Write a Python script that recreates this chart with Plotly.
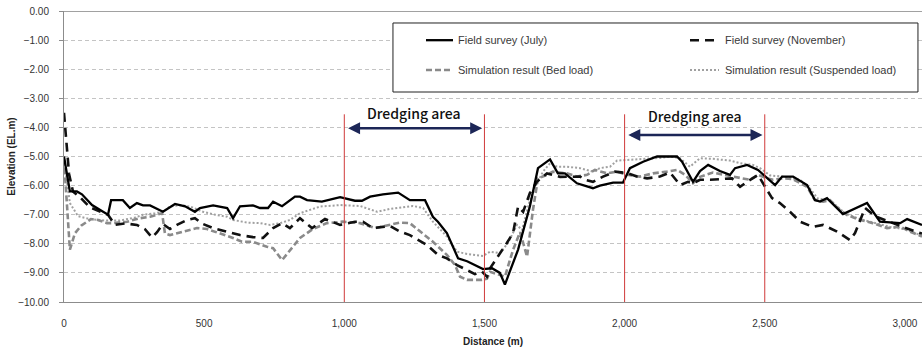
import plotly.graph_objects as go

# ---------------- data ----------------
july_x = [0, 21, 46, 64, 100, 139, 157, 168, 210, 235, 260, 282, 307, 353, 396, 432, 467, 485,
          532, 582, 603, 628, 674, 699, 728, 746, 778, 824, 842, 867, 920, 985, 1038, 1063, 1092,
          1138, 1192, 1234, 1288, 1316, 1334, 1366, 1406, 1438, 1495, 1527, 1555, 1573, 1620,
          1662, 1691, 1734, 1762, 1787, 1830, 1887, 1912, 1959, 1994, 2019, 2066, 2116, 2187,
          2205, 2244, 2269, 2298, 2340, 2376, 2394, 2437, 2476, 2512, 2537, 2562, 2601, 2651,
          2679, 2697, 2722, 2779, 2829, 2865, 2911, 2983, 3008, 3061]
july_y = [-5.0, -6.2, -6.2, -6.3, -6.67, -6.9, -7.0, -6.5, -6.5, -6.77, -6.6, -6.68, -6.68, -6.9,
          -6.63, -6.71, -6.9, -6.77, -6.68, -6.77, -7.12, -6.71, -6.68, -6.77, -6.77, -6.55, -6.71,
          -6.38, -6.38, -6.5, -6.55, -6.4, -6.52, -6.52, -6.38, -6.3, -6.24, -6.5, -6.5, -7.07,
          -7.24, -7.63, -8.5, -8.6, -8.87, -8.84, -9.0, -9.4, -8.2, -6.72, -5.4, -5.1, -5.58,
          -5.58, -5.92, -6.09, -6.0, -5.9, -5.9, -5.4, -5.18, -5.0, -5.0, -5.18, -5.87, -5.5,
          -5.29, -5.5, -5.63, -5.4, -5.29, -5.46, -5.75, -5.98, -5.69, -5.69, -5.98, -6.5, -6.55,
          -6.43, -6.98, -6.77, -6.6, -7.24, -7.29, -7.15, -7.35]

nov_x = [0, 11, 18, 32, 57, 93, 157, 182, 218, 260, 289, 314, 332, 353, 378, 403, 439, 467, 496,
         532, 582, 628, 674, 710, 746, 778, 806, 842, 885, 931, 985, 1038, 1067, 1102, 1163, 1199,
         1234, 1295, 1334, 1366, 1402, 1431, 1466, 1491, 1509, 1520, 1555, 1580, 1602, 1620,
         1638, 1662, 1687, 1723, 1770, 1805, 1841, 1859, 1887, 1923, 1966, 2009, 2044, 2080,
         2126, 2162, 2187, 2198, 2226, 2244, 2269, 2305, 2383, 2412, 2437, 2476, 2501, 2526,
         2554, 2590, 2626, 2672, 2708, 2758, 2804, 2822, 2858, 2893, 2947, 3000, 3061]
nov_y = [-3.5, -4.7, -5.6, -6.2, -6.4, -6.75, -7.0, -7.35, -7.3, -7.35, -7.5, -7.78, -7.6, -7.32,
         -7.49, -7.35, -7.18, -7.12, -7.32, -7.46, -7.58, -7.7, -7.77, -7.8, -7.46, -7.29, -7.46,
         -7.12, -7.46, -7.15, -7.35, -7.24, -7.24, -7.46, -7.39, -7.58, -7.7, -8.04, -8.38, -8.5,
         -8.73, -8.87, -9.04, -8.95, -9.13, -8.84, -8.35, -7.97, -7.63, -6.72, -6.9, -6.26, -5.87,
         -5.58, -5.7, -5.7, -5.69, -5.8, -5.87, -5.69, -5.52, -5.57, -5.69, -5.75, -5.69, -5.55,
         -5.87, -5.98, -5.87, -5.92, -5.8, -5.8, -5.75, -6.04, -5.87, -5.63, -6.04, -6.43, -6.6,
         -6.9, -7.24, -7.42, -7.35, -7.58, -7.87, -7.63, -6.77, -7.05, -7.25, -7.45, -7.65]

bed_x = [0, 21, 39, 61, 96, 121, 153, 175, 225, 271, 307, 350, 360, 378, 425, 474, 510, 557, 603,
         635, 674, 724, 746, 778, 806, 842, 888, 938, 995, 1056, 1110, 1163, 1199, 1234, 1270,
         1316, 1366, 1395, 1413, 1438, 1491, 1509, 1520, 1555, 1573, 1602, 1627, 1652, 1673,
         1691, 1723, 1744, 1794, 1830, 1866, 1894, 1937, 1973, 2009, 2055, 2101, 2151, 2187,
         2216, 2244, 2269, 2315, 2387, 2447, 2476, 2508, 2530, 2565, 2601, 2651, 2679, 2708,
         2733, 2768, 2794, 2840, 2886, 2936, 2983, 3018, 3061]
bed_y = [-5.1, -8.2, -7.64, -7.38, -7.15, -7.18, -7.29, -7.29, -7.24, -7.12, -7.07, -6.95, -7.64,
         -7.7, -7.58, -7.46, -7.49, -7.64, -7.8, -7.93, -7.93, -8.1, -8.15, -8.56, -8.21, -7.8,
         -7.49, -7.29, -7.24, -7.29, -7.46, -7.35, -7.27, -7.29, -7.58, -7.93, -8.38, -8.73,
         -9.13, -9.24, -9.24, -9.2, -8.96, -9.07, -9.13, -8.21, -7.6, -8.44, -6.84, -5.75, -5.63,
         -5.52, -5.58, -5.69, -5.63, -5.46, -5.58, -5.52, -5.63, -5.69, -5.58, -5.52, -5.46,
         -5.63, -5.92, -5.7, -5.55, -5.69, -5.8, -5.63, -5.75, -5.8, -5.75, -5.78, -6.04, -6.5,
         -6.55, -6.5, -6.84, -7.01, -7.18, -7.29, -7.46, -7.41, -7.58, -7.75]

susp_x = [0, 21, 50, 93, 146, 200, 253, 282, 325, 353, 378, 414, 450, 496, 539, 582, 603, 653,
          699, 735, 771, 806, 842, 878, 913, 985, 1056, 1117, 1163, 1245, 1281, 1316, 1366, 1402,
          1438, 1495, 1520, 1555, 1584, 1616, 1634, 1662, 1687, 1709, 1734, 1759, 1794, 1841,
          1887, 1912, 1948, 1973, 2009, 2066, 2126, 2162, 2198, 2233, 2269, 2315, 2376, 2412,
          2458, 2483, 2519, 2572, 2626, 2661, 2690, 2733, 2786, 2840, 2893, 2947, 3000, 3061]
susp_y = [-5.1, -6.6, -7.05, -7.15, -7.2, -7.2, -7.1, -7.0, -6.95, -6.9, -6.72, -6.67, -6.72, -6.9,
          -7.0, -7.07, -7.18, -7.27, -7.29, -7.35, -7.29, -7.18, -6.95, -6.84, -6.72, -6.67, -6.7,
          -6.9, -6.8, -6.7, -6.77, -7.24, -7.75, -8.27, -8.35, -8.42, -8.27, -8.32, -7.97, -7.35,
          -7.53, -6.5, -5.92, -5.52, -5.23, -5.35, -5.35, -5.4, -5.52, -5.4, -5.35, -5.14, -5.12,
          -5.1, -5.05, -5.0, -5.06, -5.35, -5.06, -5.08, -5.14, -5.23, -5.29, -5.4, -5.65, -5.7,
          -5.8, -6.1, -6.45, -6.5, -6.95, -7.15, -7.28, -7.42, -7.5, -7.72]

series_names = ["Field survey (July)", "Field survey (November)",
                "Simulation result (Bed load)", "Simulation result (Suspended load)"]
dredging_areas = [(1000, 1500), (2000, 2500)]
dredging_label = "Dredging area"
x_ticks = [0, 500, 1000, 1500, 2000, 2500, 3000]
x_ticktext = ["0", "500", "1,000", "1,500", "2,000", "2,500", "3,000"]
y_ticks = [0, -1, -2, -3, -4, -5, -6, -7, -8, -9, -10]

# ---------------- styles ----------------
styles = [
    dict(color="#000000", width=2.3, dash="solid"),
    dict(color="#111111", width=2.6, dash="9px,6px"),
    dict(color="#8a8a8a", width=2.6, dash="6px,3px"),
    dict(color="#a0a0a0", width=2.0, dash="2px,2px"),
]
series = [(july_x, july_y), (nov_x, nov_y), (bed_x, bed_y), (susp_x, susp_y)]

fig = go.Figure()
# draw simulations first, surveys on top
for idx in [3, 2, 1, 0]:
    xs, ys = series[idx]
    fig.add_trace(go.Scatter(x=xs, y=ys, mode="lines", name=series_names[idx],
                             line=styles[idx], showlegend=False))

FONT = "Liberation Sans, Arial, sans-serif"
shapes = []
annotations = []

# red boundary lines and arrows for dredging areas
label_y = [-3.5, -3.62]
arrow_y = [-4.03, -4.26]
for i, (a, b) in enumerate(dredging_areas):
    for xv in (a, b):
        shapes.append(dict(type="line", xref="x", yref="y", x0=xv, x1=xv, y0=-10, y1=-3.55,
                           line=dict(color="#d03a3a", width=1)))
    annotations.append(dict(x=b - 8, y=arrow_y[i], ax=a + 8, ay=arrow_y[i], xref="x", yref="y",
                            axref="x", ayref="y", text="", showarrow=True, arrowhead=2,
                            arrowside="end+start", arrowsize=1.0, arrowwidth=2.4,
                            arrowcolor="#1c2657"))
    annotations.append(dict(x=(a + b) / 2, y=label_y[i], xref="x", yref="y",
                            text=dredging_label, showarrow=False,
                            font=dict(family="Noto Sans CJK KR, Noto Sans, sans-serif",
                                      size=14, color="#111111", weight=500)))

# top border line at 0
shapes.append(dict(type="line", xref="paper", yref="y", x0=0, x1=1, y0=0, y1=0,
                   line=dict(color="#444444", width=1.2)))

# manual legend box
shapes.append(dict(type="rect", xref="paper", yref="paper", x0=0.3834, x1=0.9953,
                   y0=0.7216, y1=0.9588, line=dict(color="#222222", width=1),
                   fillcolor="white", layer="above"))
leg_cols = [(0.4219, 0.4534, 0.4569), (0.7296, 0.7634, 0.7681)]
leg_rows = [0.8997, 0.7973]
for k in range(4):
    r, c = divmod(k, 2)
    x0, x1, xt = leg_cols[c]
    yy = leg_rows[r]
    st = styles[k]
    shapes.append(dict(type="line", xref="paper", yref="paper", x0=x0, x1=x1, y0=yy, y1=yy,
                       line=dict(color=st["color"], width=st["width"], dash=st["dash"]),
                       layer="above"))
    annotations.append(dict(x=xt, y=yy, xref="paper", yref="paper", text=series_names[k],
                            showarrow=False, xanchor="left", yanchor="middle",
                            font=dict(family=FONT, size=11, color="#3a3a3a")))

fig.update_layout(
    width=922, height=351,
    margin=dict(l=64, r=0, t=11, b=49),
    paper_bgcolor="white", plot_bgcolor="white",
    shapes=shapes, annotations=annotations,
    font=dict(family=FONT, size=10, color="#333333"),
    xaxis=dict(range=[0, 3061], tickvals=x_ticks, ticktext=x_ticktext, showgrid=False,
               zeroline=False, showline=True, linecolor="#8c8c8c", linewidth=1,
               ticks="", ticklabelstandoff=12,
               tickfont=dict(family="Liberation Sans Narrow, " + FONT, size=10, color="#333333"),
               title=dict(text="<b>Distance (m)</b>", standoff=9,
                          font=dict(family=FONT, size=10, color="#222222"))),
    yaxis=dict(range=[-10, 0], tickvals=y_ticks, tickformat=".2f", showgrid=True,
               gridcolor="#c4c4c4", gridwidth=1, griddash="4px,3px", zeroline=False,
               showline=True, linecolor="#8c8c8c", linewidth=1, ticks="outside", ticklen=4,
               tickcolor="#8c8c8c", ticklabelstandoff=8,
               tickfont=dict(family=FONT, size=10, color="#333333"),
               title=dict(text="<b>Elevation (EL.m)</b>", standoff=0,
                          font=dict(family=FONT, size=10, color="#222222"))),
)

fig.write_html("out.html")
